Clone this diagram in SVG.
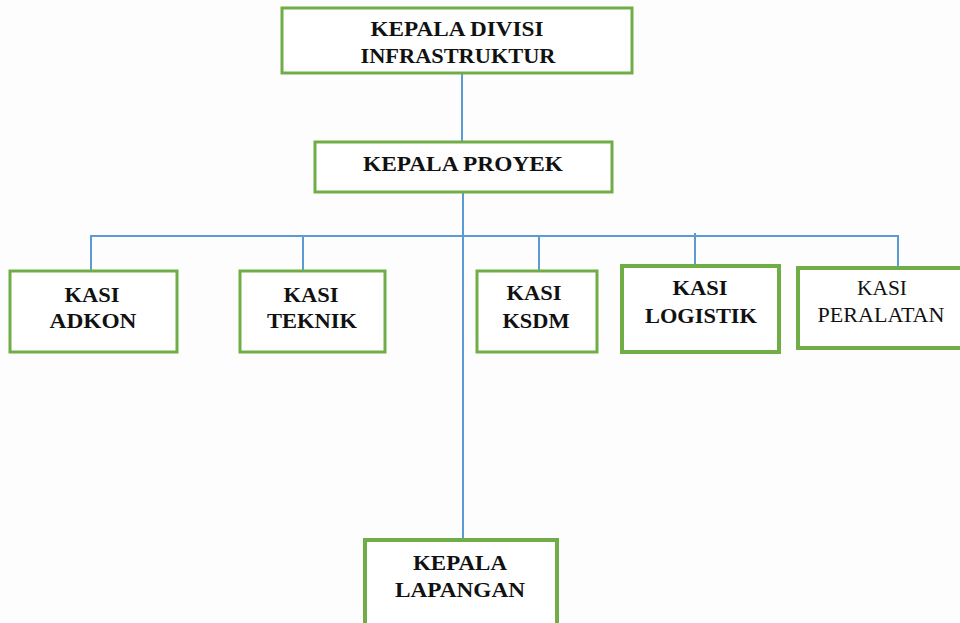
<svg xmlns="http://www.w3.org/2000/svg" width="960" height="623" viewBox="0 0 960 623">
<style>
.box{fill:#ffffff;stroke:#70ad47;stroke-width:3}
.thick{stroke-width:4}
.con{fill:none;stroke:#5b9bd5;stroke-width:2}
text{font-family:"Liberation Serif","Times New Roman",serif;font-weight:bold;fill:#111111;text-anchor:middle}
.reg{font-weight:normal}
</style>
<rect x="0" y="0" width="960" height="623" fill="#fdfdfd"/>
<g id="connectors">
<path class="con" d="M462 73 V142"/>
<path class="con" d="M463 192 V540"/>
<path class="con" d="M91 270 V236 H898 V268"/>
<path class="con" d="M303 236 V271"/>
<path class="con" d="M539 236 V271"/>
<path class="con" d="M695 233 V266"/>
</g>
<g id="kepala-divisi">
<rect class="box" x="282" y="8" width="350" height="65"/>
<text x="457" y="36" font-size="20" textLength="173" lengthAdjust="spacingAndGlyphs">KEPALA DIVISI</text>
<text x="458" y="63" font-size="20" textLength="195" lengthAdjust="spacingAndGlyphs">INFRASTRUKTUR</text>
</g>
<g id="kepala-proyek">
<rect class="box" x="315" y="142" width="297" height="50"/>
<text x="463" y="171" font-size="22" textLength="200" lengthAdjust="spacingAndGlyphs">KEPALA PROYEK</text>
</g>
<g id="kasi-adkon">
<rect class="box" x="10" y="271" width="167" height="81"/>
<text x="92" y="302" font-size="22" textLength="55" lengthAdjust="spacingAndGlyphs">KASI</text>
<text x="93" y="328" font-size="22" textLength="87" lengthAdjust="spacingAndGlyphs">ADKON</text>
</g>
<g id="kasi-teknik">
<rect class="box" x="240" y="271" width="145" height="81"/>
<text x="311" y="302" font-size="22" textLength="55" lengthAdjust="spacingAndGlyphs">KASI</text>
<text x="312" y="328" font-size="22" textLength="90" lengthAdjust="spacingAndGlyphs">TEKNIK</text>
</g>
<g id="kasi-ksdm">
<rect class="box" x="477" y="271" width="120" height="81"/>
<text x="534" y="300" font-size="22" textLength="55" lengthAdjust="spacingAndGlyphs">KASI</text>
<text x="536" y="328" font-size="22" textLength="67" lengthAdjust="spacingAndGlyphs">KSDM</text>
</g>
<g id="kasi-logistik">
<rect class="box thick" x="622" y="266" width="157" height="86"/>
<text x="700" y="295" font-size="22" textLength="55" lengthAdjust="spacingAndGlyphs">KASI</text>
<text x="701" y="323" font-size="22" textLength="112" lengthAdjust="spacingAndGlyphs">LOGISTIK</text>
</g>
<g id="kasi-peralatan">
<rect class="box thick" x="798" y="268" width="166" height="80"/>
<text class="reg" x="882" y="295" font-size="21" textLength="50" lengthAdjust="spacingAndGlyphs">KASI</text>
<text class="reg" x="881" y="322" font-size="21" textLength="127" lengthAdjust="spacingAndGlyphs">PERALATAN</text>
</g>
<g id="kepala-lapangan">
<rect class="box thick" x="365" y="540" width="192" height="90"/>
<text x="460" y="570" font-size="22" textLength="94" lengthAdjust="spacingAndGlyphs">KEPALA</text>
<text x="460" y="597" font-size="22" textLength="130" lengthAdjust="spacingAndGlyphs">LAPANGAN</text>
</g>
</svg>
